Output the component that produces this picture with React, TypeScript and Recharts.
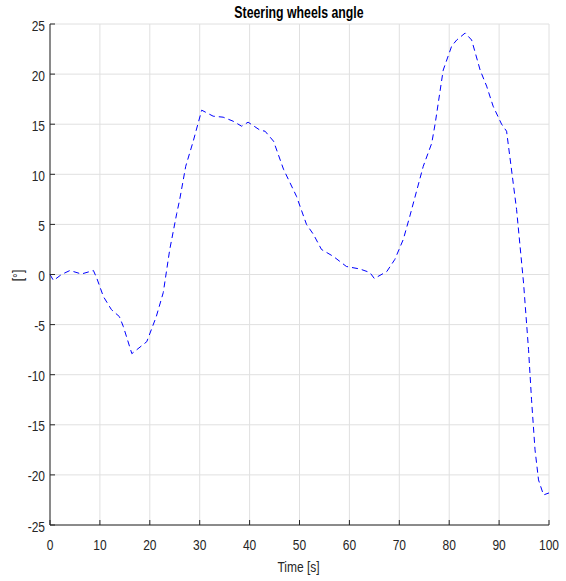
import React from "react";
import { LineChart, Line, XAxis, YAxis, CartesianGrid } from "recharts";

const times = [0, 0.7, 2.3, 4, 6.3, 8.7, 9.4, 10.7, 12.3, 13.9, 14.7, 16.4, 19.4, 21.3, 22.7, 24, 25.4, 26, 27.2, 28.7, 30.4, 32.7, 34.7, 36.7, 38.4, 39.7, 42.1, 43.1, 44.8, 46.8, 49.4, 51.4, 52.8, 54.4, 56.8, 59.4, 62.1, 64.1, 65, 67.5, 69.1, 70.8, 72.1, 74.8, 76.5, 77.2, 78.8, 80.5, 81.5, 83.2, 84.5, 86.2, 87.5, 88.8, 90.5, 91.5, 93.5, 94.9, 95.9, 96.5, 97.2, 97.9, 98.9, 100];
const angles = [0, -0.6, 0, 0.4, 0.05, 0.4, -0.4, -2.2, -3.5, -4.2, -5.2, -7.9, -6.7, -4.2, -1.8, 2.5, 6.1, 7.5, 10.8, 13.3, 16.4, 15.8, 15.7, 15.3, 14.8, 15.2, 14.4, 14.3, 13.3, 10.5, 7.8, 5, 4.0, 2.5, 1.8, 0.8, 0.55, 0.2, -0.4, 0.3, 1.5, 3.5, 5.8, 10.8, 13.1, 15.1, 20.4, 22.8, 23.4, 24.1, 23.4, 20.4, 18.8, 16.8, 15, 14.3, 6.5, -0.85, -7.5, -12.5, -17.5, -20.5, -22, -21.8];
const xTicks = [0, 10, 20, 30, 40, 50, 60, 70, 80, 90, 100];
const yTicks = [-25, -20, -15, -10, -5, 0, 5, 10, 15, 20, 25];

const data = times.map((t, i) => ({ t, a: angles[i] }));

const FONT = "'Liberation Sans', Arial, Helvetica, sans-serif";
const AX = "#262626";

const NText = ({ x, y, anchor = "middle", size = 15, weight = "normal", sx = 0.8, rot = 0, fill = AX, children }: any) => (
  <text
    transform={`translate(${x},${y}) rotate(${rot}) scale(${sx},1)`}
    textAnchor={anchor}
    fontFamily={FONT}
    fontSize={size}
    fontWeight={weight}
    fill={fill}
  >
    {children}
  </text>
);

const BottomTick = (p: any) => (
  <g>
    <line x1={p.x} y1={p.y} x2={p.x} y2={p.y - 5} stroke={AX} />
    <NText x={p.x} y={p.y + 25}>{p.payload.value}</NText>
  </g>
);
const TopTick = (p: any) => (
  <line x1={p.x} y1={p.y} x2={p.x} y2={p.y + 5} stroke={AX} />
);
const LeftTick = (p: any) => (
  <g>
    <line x1={p.x} y1={p.y} x2={p.x + 5} y2={p.y} stroke={AX} />
    <NText x={p.x - 5} y={p.y + 6.5} anchor="end">{p.payload.value}</NText>
  </g>
);
const RightTick = (p: any) => (
  <line x1={p.x} y1={p.y} x2={p.x - 5} y2={p.y} stroke={AX} />
);

export default function App() {
  return (
    <div style={{ position: "absolute", left: 0, top: 0, background: "#fff" }}>
      <LineChart width={566} height={581} data={data} margin={{ top: 24, right: 17, left: 0, bottom: 0 }}>
        <CartesianGrid stroke="#e0e0e0" horizontalValues={yTicks} verticalValues={xTicks} />
        <XAxis dataKey="t" type="number" domain={[0, 100]} ticks={xTicks} height={56} stroke={AX}
          tickSize={0} tickMargin={0} tick={<BottomTick />} interval={0} />
        <XAxis xAxisId="top" orientation="top" dataKey="t" type="number" domain={[0, 100]} ticks={xTicks}
          height={0} stroke={AX} tickSize={0} tickMargin={0} tick={<TopTick />} interval={0} />
        <YAxis type="number" domain={[-25, 25]} ticks={yTicks} width={50} stroke={AX}
          tickSize={0} tickMargin={0} tick={<LeftTick />} interval={0} />
        <YAxis yAxisId="right" orientation="right" type="number" domain={[-25, 25]} ticks={yTicks} width={0}
          stroke={AX} tickSize={0} tickMargin={0} tick={<RightTick />} interval={0} />
        <Line dataKey="a" type="linear" stroke="#0000ff" strokeWidth={1} strokeDasharray="6 4" dot={false}
          isAnimationActive={false} />
        <NText x={299} y={17.5} size={16} weight="bold" sx={0.77} fill="#000">Steering wheels angle</NText>
        <NText x={298.5} y={572}>Time [s]</NText>
        <NText x={23} y={275.5} rot={-90}>[°]</NText>
      </LineChart>
    </div>
  );
}
